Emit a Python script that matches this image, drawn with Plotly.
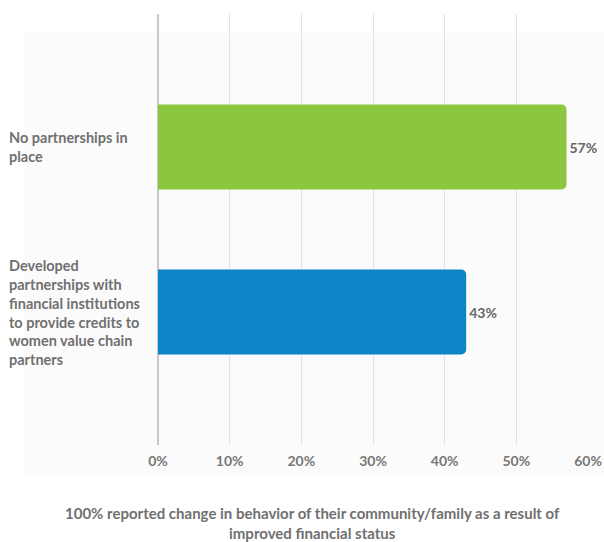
import plotly.graph_objects as go

categories = ["Developed<br>partnerships with<br>financial institutions<br>to provide credits to<br>women value chain<br>partners",
              "No partnerships in<br>place"]
values = [43, 57]
colors = ["#0e84c8", "#8cc63f"]
tick_vals = [0, 10, 20, 30, 40, 50, 60]
tick_text = ["0%", "10%", "20%", "30%", "40%", "50%", "60%"]
title_text = "100% reported change in behavior of their community/family as a result of<br>improved financial status"

W, H = 604, 542
L, R, T, B = 158, 16, 14, 97
pw, ph = W - L - R, H - T - B

def px_x(p):
    return (p - L) / pw

def px_y(p):
    return (H - B - p) / ph

fig = go.Figure()
fig.add_trace(go.Bar(
    y=[0, 1], x=values, orientation="h",
    marker=dict(color=colors, line=dict(width=0)),
    width=0.515,
    text=[f"{v}%" for v in values], textposition="outside",
    textfont=dict(family="Lato", size=14, color="#666666", weight="bold"),
    cliponaxis=False,
    hoverinfo="skip",
))

for i, c in enumerate(categories):
    fig.add_annotation(
        x=px_x(7), xref="paper", y=i, yref="y",
        text=c, showarrow=False, xanchor="left", yanchor="middle", align="left",
        font=dict(family="Lato", size=14.5, color="#707070", weight="bold"),
    )

fig.add_annotation(
    x=(312 - L) / pw, xref="paper", y=px_y(523), yref="paper",
    text=title_text, showarrow=False, xanchor="center", yanchor="middle", align="center",
    font=dict(family="Lato", size=15, color="#707070", weight="bold"),
)

fig.add_shape(type="rect", xref="paper", yref="paper",
              x0=px_x(24), x1=px_x(604), y0=px_y(476), y1=px_y(33),
              fillcolor="#fbfbfb", line=dict(width=0), layer="below")

fig.update_layout(
    width=W, height=H,
    margin=dict(l=L, r=R, t=T, b=B),
    paper_bgcolor="white", plot_bgcolor="rgba(0,0,0,0)",
    showlegend=False,
    barcornerradius=5,
    xaxis=dict(range=[0, 60], tickvals=tick_vals, ticktext=tick_text,
               showgrid=True, gridcolor="#e2e2e2", gridwidth=1,
               zeroline=True, zerolinecolor="#c8c8c8", zerolinewidth=2,
               showline=False, ticks="", ticklabelstandoff=6, automargin=False,
               tickfont=dict(family="Lato", size=14, color="#777777", weight="bold")),
    yaxis=dict(range=[-0.806, 1.806], showticklabels=False, showgrid=False,
               zeroline=False, showline=False, ticks="", automargin=False),
)

fig.write_html("out.html")
